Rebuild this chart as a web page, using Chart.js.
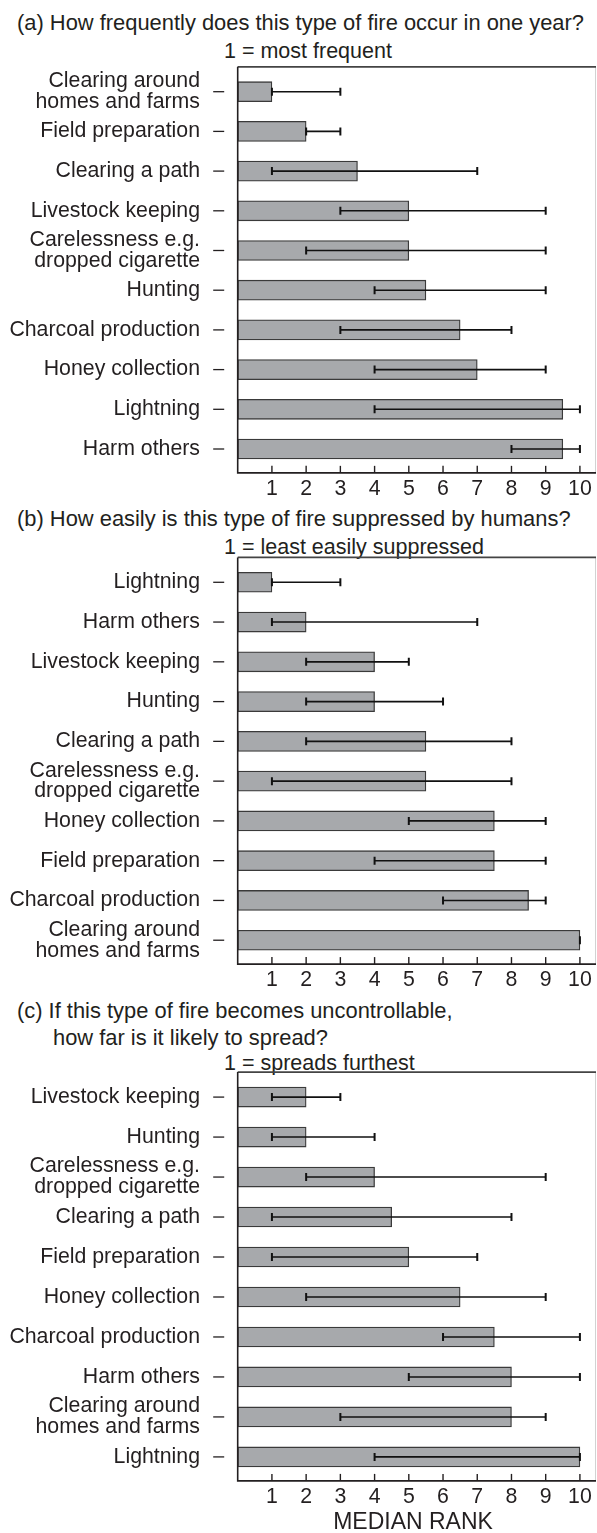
<!DOCTYPE html>
<html>
<head>
<meta charset="utf-8">
<script src="https://cdn.jsdelivr.net/npm/chart.js@4.4.1/dist/chart.umd.min.js"></script>
<style>
    body { margin: 0; width: 597px; height: 1533px; position: relative; background: #fff; overflow: hidden;
           font-family: "Liberation Sans", Arial, sans-serif; color: #231f20; }
    .t { position: absolute; font-size: 21.9px; line-height: 24px; white-space: nowrap; }
    canvas { position: absolute; left: 0; }
</style>
</head>
<body>
<div class="t" style="left:17px;top:11px">(a) How frequently does this type of fire occur in one year?</div>
<div class="t" style="left:224px;top:39px;font-size:21.5px">1 = most frequent</div>
<canvas id="chartA" width="597" height="441" style="top:64px"></canvas>

<div class="t" style="left:17px;top:507px">(b) How easily is this type of fire suppressed by humans?</div>
<div class="t" style="left:224px;top:535px;font-size:21.5px">1 = least easily suppressed</div>
<canvas id="chartB" width="597" height="442" style="top:554px"></canvas>

<div class="t" style="left:17px;top:999px">(c) If this type of fire becomes uncontrollable,</div>
<div class="t" style="left:53px;top:1026px">how far is it likely to spread?</div>
<div class="t" style="left:224px;top:1051px;font-size:21.5px">1 = spreads furthest</div>
<canvas id="chartC" width="597" height="440" style="top:1069px"></canvas>
<div class="t" style="left:413px;top:1508px;font-size:23px;line-height:26px;transform:translateX(-50%)">MEDIAN RANK</div>

<script>
// tick labels on the rank axis
const rankTicks = [1, 2, 3, 4, 5, 6, 7, 8, 9, 10];

// (a) frequency
const catsA = [['Clearing around', 'homes and farms'], 'Field preparation', 'Clearing a path', 'Livestock keeping',
    ['Carelessness e.g.', 'dropped cigarette'], 'Hunting', 'Charcoal production', 'Honey collection', 'Lightning', 'Harm others'];
const medA  = [1, 2, 3.5, 5, 5, 5.5, 6.5, 7, 9.5, 9.5];
const lowA  = [1, 2, 1, 3, 2, 4, 3, 4, 4, 8];
const highA = [3, 3, 7, 9, 9, 9, 8, 9, 10, 10];

// (b) suppression
const catsB = ['Lightning', 'Harm others', 'Livestock keeping', 'Hunting', 'Clearing a path',
    ['Carelessness e.g.', 'dropped cigarette'], 'Honey collection', 'Field preparation', 'Charcoal production', ['Clearing around', 'homes and farms']];
const medB  = [1, 2, 4, 4, 5.5, 5.5, 7.5, 7.5, 8.5, 10];
const lowB  = [1, 1, 2, 2, 2, 1, 5, 4, 6, 10];
const highB = [3, 7, 5, 6, 8, 8, 9, 9, 9, 10];

// (c) spread
const catsC = ['Livestock keeping', 'Hunting', ['Carelessness e.g.', 'dropped cigarette'], 'Clearing a path', 'Field preparation',
    'Honey collection', 'Charcoal production', 'Harm others', ['Clearing around', 'homes and farms'], 'Lightning'];
const medC  = [2, 2, 4, 4.5, 5, 6.5, 7.5, 8, 8, 10];
const lowC  = [1, 1, 2, 1, 1, 2, 6, 5, 3, 4];
const highC = [3, 4, 9, 8, 7, 9, 10, 10, 9, 10];

const ink = '#231f20';
const font = { family: '"Liberation Sans", Arial, sans-serif', size: 21.3, lineHeight: 0.98 };

// error bars, frame, inward ticks and category dashes
const rankDecor = {
    id: 'rankDecor',
    afterDatasetsDraw(chart, args, opts) {
        const ctx = chart.ctx, a = chart.chartArea;
        const xs = chart.scales.x, ys = chart.scales.y;
        const top = a.top - 5, bottom = a.bottom + 4;
        ctx.save();
        ctx.lineCap = 'butt';

        // error bars
        ctx.strokeStyle = '#111';
        opts.low.forEach((lo, i) => {
            const y = ys.getPixelForValue(i);
            const x1 = xs.getPixelForValue(lo), x2 = xs.getPixelForValue(opts.high[i]);
            ctx.lineWidth = 1.6;
            ctx.beginPath(); ctx.moveTo(x1, y); ctx.lineTo(x2, y); ctx.stroke();
            ctx.lineWidth = 2;
            ctx.beginPath();
            ctx.moveTo(x1, y - 4); ctx.lineTo(x1, y + 4);
            ctx.moveTo(x2, y - 4); ctx.lineTo(x2, y + 4);
            ctx.stroke();
        });

        // frame
        ctx.lineWidth = 1;
        ctx.strokeStyle = '#d2d2d2';
        ctx.beginPath(); ctx.moveTo(a.right - 0.5, top); ctx.lineTo(a.right - 0.5, bottom); ctx.stroke();
        ctx.lineWidth = 1.6;
        ctx.strokeStyle = '#444';
        ctx.beginPath(); ctx.moveTo(a.left, top); ctx.lineTo(a.right, top); ctx.stroke();
        ctx.strokeStyle = ink;
        ctx.beginPath();
        ctx.moveTo(a.left, top); ctx.lineTo(a.left, bottom); ctx.lineTo(a.right, bottom);
        ctx.stroke();

        // inward ticks on the rank axis
        ctx.lineWidth = 1.4;
        rankTicks.forEach(v => {
            const x = xs.getPixelForValue(v);
            ctx.beginPath(); ctx.moveTo(x, bottom); ctx.lineTo(x, bottom - 7); ctx.stroke();
        });

        // dashes next to category labels
        ctx.lineWidth = 1.3;
        chart.data.labels.forEach((l, i) => {
            const y = ys.getPixelForValue(i);
            ctx.beginPath(); ctx.moveTo(a.left - 24.5, y); ctx.lineTo(a.left - 13.5, y); ctx.stroke();
        });
        ctx.restore();
    }
};

function makeChart(id, labels, med, low, high, padTop, axisH) {
    return new Chart(document.getElementById(id), {
        type: 'bar',
        data: {
            labels: labels,
            datasets: [{
                data: med,
                backgroundColor: '#a7a9ac',
                borderColor: '#3a3a3a',
                borderWidth: 1.3,
                borderSkipped: false,
                barThickness: 20
            }]
        },
        options: {
            indexAxis: 'y',
            responsive: false,
            animation: false,
            devicePixelRatio: 1,
            layout: { autoPadding: false, padding: { top: padTop, right: 1, left: 0, bottom: 0 } },
            plugins: {
                legend: { display: false },
                tooltip: { enabled: false },
                rankDecor: { low: low, high: high }
            },
            scales: {
                x: {
                    type: 'linear', min: 0, max: 10.47,
                    grid: { display: false, drawTicks: false },
                    border: { display: false },
                    ticks: {
                        stepSize: 1, includeBounds: false, autoSkip: false, maxRotation: 0,
                        color: ink, font: font, padding: 9.5,
                        callback: v => rankTicks.includes(v) ? String(v) : ''
                    },
                    afterFit: s => {
                        s.height = axisH;
                        s.paddingLeft = s.paddingRight = s.paddingTop = s.paddingBottom = 0;
                    }
                },
                y: {
                    grid: { display: false, drawTicks: false },
                    border: { display: false },
                    ticks: { autoSkip: false, color: ink, font: font, padding: 37.7 },
                    afterFit: s => {
                        s.width = 237.7;
                        s.paddingLeft = s.paddingRight = s.paddingTop = s.paddingBottom = 0;
                    }
                }
            }
        },
        plugins: [rankDecor]
    });
}

// canvas tops: a 64, b 554, c 1069
makeChart('chartA', catsA, medA, lowA, highA, 7.85, 441 - (468.85 - 64));
makeChart('chartB', catsB, medB, lowB, highB, 8.4, 442 - (960.1 - 554));
makeChart('chartC', catsC, medC, lowC, highC, 8.1, 440 - (1476.9 - 1069));
</script>
</body>
</html>
